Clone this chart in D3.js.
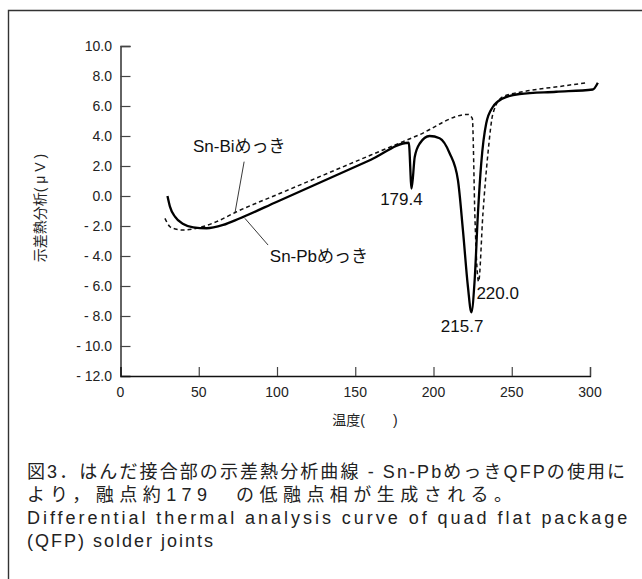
<!DOCTYPE html>
<html>
<head>
<meta charset="utf-8">
<script src="https://cdnjs.cloudflare.com/ajax/libs/d3/7.8.5/d3.min.js"></script>
<style>
body { margin: 0; background: #fff; }
svg { display: block; font-family: "Liberation Sans", Arial, "Noto Sans CJK JP", sans-serif; }
</style>
</head>
<body>
<div id="chart"></div>
<script>
// Sn-Pb plated (solid)
var pbTemp = [30, 31.6, 34.8, 40.1, 46.5, 55, 65.6, 76, 100, 130, 160, 184.2, 186, 188, 191.2, 197.5, 203.9, 210.3, 215.6, 218.8, 222, 224.2, 226.3, 228.4, 230.5, 233.7, 238, 244.3, 255, 278.4, 301.8, 305];
var pbVal  = [0, -0.71, -1.38, -1.87, -2.09, -2.15, -1.93, -1.5, -0.38, 1.02, 2.42, 3.55, 0.5, 2.6, 3.5, 4.0, 3.85, 2.85, 1.07, -2.27, -6.05, -7.75, -5.6, -1.15, 2.18, 4.85, 5.95, 6.5, 6.8, 6.95, 7.1, 7.55];
// Sn-Bi plated (dashed)
var biTemp = [28.4, 31.6, 35, 40.1, 48.6, 61.4, 74.2, 100, 130, 160, 190, 222, 224.8, 226.5, 227.8, 228.8, 231.6, 234.8, 238, 244.3, 257.1, 282.6, 297.6];
var biVal  = [-1.49, -2.05, -2.2, -2.27, -2.15, -1.71, -1.05, 0.09, 1.41, 2.73, 4.04, 5.44, 5.18, -1.5, -4.8, -5.71, -1.15, 2.85, 5.5, 6.62, 6.95, 7.33, 7.55];

var xTicks = [0, 50, 100, 150, 200, 250, 300];
var yTicks = [10, 8, 6, 4, 2, 0, -2, -4, -6, -8, -10, -12];

// peak labels [temp, value, text, anchor]
var peakLabels = [
  [179.5, -0.2, "179.4", "middle"],
  [218.3, -8.67, "215.7", "middle"],
  [227.4, -6.47, "220.0", "start"]
];
// series labels [text, labelT, labelV, lineT1, lineV1, lineT2, lineV2]
var seriesLabels = [
  ["Sn-Biめっき", 46.3, 3.33, 79, 2.29, 73.1, -1.15],
  ["Sn-Pbめっき", 95.4, -4.0, 79.5, -1.49, 94.3, -3.27]
];

var captionLines = [
  "図3．はんだ接合部の示差熱分析曲線 - Sn-PbめっきQFPの使用に",
  "より，融点約179　の低融点相が生成される。",
  "Differential thermal analysis curve of quad flat package",
  "(QFP) solder joints"
];

var W = 642, H = 579;
var svg = d3.select("#chart").append("svg").attr("width", W).attr("height", H);

// frame
svg.append("path")
  .attr("d", "M8.5," + H + "V10.5H" + W)
  .attr("fill", "none").attr("stroke", "#333").attr("stroke-width", 1.4);

var x = d3.scaleLinear().domain([0, 300]).range([120.5, 590]);
var y = d3.scaleLinear().domain([-12, 10]).range([376, 46]);

function fmt(d) { return d < 0 ? "- " + Math.abs(d).toFixed(1) : d.toFixed(1); }

// axes
var gx = svg.append("g").attr("transform", "translate(0," + y(-12) + ")")
  .call(d3.axisTop(x).tickValues(xTicks).tickSize(9).tickFormat(""));
var gy = svg.append("g").attr("transform", "translate(" + x(0) + ",0)")
  .call(d3.axisRight(y).tickValues(yTicks.filter(function(d){ return d > -12; })).tickSize(10).tickFormat(""));
[gx, gy].forEach(function(g) {
  g.select(".domain").attr("stroke", "#111").attr("stroke-width", 1.3);
  g.selectAll(".tick line").attr("stroke", "#444").attr("stroke-width", 1.2);
});

svg.append("g").selectAll("text").data(xTicks).enter().append("text")
  .attr("x", function(d){ return x(d); }).attr("y", 397)
  .attr("text-anchor", "middle").attr("font-size", 14).attr("fill", "#222")
  .text(function(d){ return d; });

svg.append("g").selectAll("text").data(yTicks).enter().append("text")
  .attr("x", 112).attr("y", function(d){ return y(d) + 5; })
  .attr("text-anchor", "end").attr("font-size", 14).attr("fill", "#222")
  .text(fmt);

svg.append("text").attr("x", 365).attr("y", 425).attr("text-anchor", "middle")
  .attr("font-size", 14).attr("fill", "#222").text("温度(　　)");

svg.append("text").attr("transform", "translate(45,208) rotate(-90)")
  .attr("text-anchor", "middle").attr("font-size", 14).attr("fill", "#222")
  .text("示差熱分析( μ V )");

// curves
var line = d3.line().x(function(d){ return x(d[0]); }).y(function(d){ return y(d[1]); })
  .curve(d3.curveMonotoneX);

svg.append("path").datum(d3.zip(biTemp, biVal))
  .attr("d", line).attr("fill", "none").attr("stroke", "#111")
  .attr("stroke-width", 1.5).attr("stroke-dasharray", "4,3");

svg.append("path").datum(d3.zip(pbTemp, pbVal))
  .attr("d", line).attr("fill", "none").attr("stroke", "#000")
  .attr("stroke-width", 2.3).attr("stroke-linejoin", "round");

// series labels
seriesLabels.forEach(function(s) {
  svg.append("line")
    .attr("x1", x(s[3])).attr("y1", y(s[4])).attr("x2", x(s[5])).attr("y2", y(s[6]))
    .attr("stroke", "#222").attr("stroke-width", 0.9);
  svg.append("text").attr("x", x(s[1])).attr("y", y(s[2]) + 6)
    .attr("font-size", 17).attr("fill", "#111").text(s[0]);
});

peakLabels.forEach(function(p) {
  svg.append("text").attr("x", x(p[0])).attr("y", y(p[1]) + 6)
    .attr("text-anchor", p[3]).attr("font-size", 17).attr("fill", "#111").text(p[2]);
});

// caption: stretch each line with letter-spacing to its width in the figure
var capY = [478, 501, 524, 547];
var capLen = [598, 485, 600, 186];
captionLines.forEach(function(t, i) {
  var txt = svg.append("text").attr("x", 27).attr("y", capY[i])
    .attr("font-size", 18).attr("fill", "#222")
    .text(t);
  var nat = txt.node().getComputedTextLength();
  var n = Array.from(t).length;
  var ls = Math.max(0, (capLen[i] - nat) / (n - 1));
  txt.attr("letter-spacing", ls.toFixed(2) + "px");
});
</script>
</body>
</html>
